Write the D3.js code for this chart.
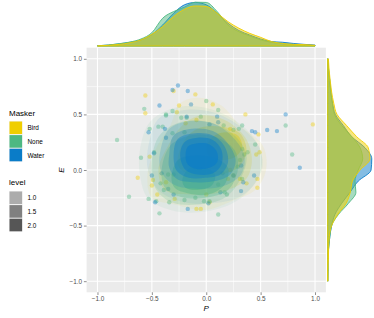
<!DOCTYPE html>
<html><head><meta charset="utf-8">
<script src="https://cdn.jsdelivr.net/npm/d3@7"></script>
<style>body{margin:0;background:#fff}svg{display:block}text{font-family:"Liberation Sans",Arial,sans-serif}</style>
</head><body><svg id="c" width="374" height="318"></svg>
<script>
const groups = ["Bird","None","Water"];
const groupColors = ["#F0CE00","#4DB882","#0A7CC8"];
const xTicks = [-1,-0.5,0,0.5,1];
const yTicks = [-1,-0.5,0,0.5,1];
const minorTicks = [-0.75,-0.25,0.25,0.75];
const levelBreaks = [1.0,1.5,2.0];

// marginal density grid and values
const margGrid = [-1,-0.9,-0.8,-0.7,-0.6,-0.5,-0.4,-0.3,-0.2,-0.1,0,0.1,0.2,0.3,0.4,0.5,0.6,0.7,0.8,0.9,1];
const birdDensP  = [0,.03,.07,.14,.26,.50,.83,1.26,1.57,1.71,1.69,1.40,1.04,.76,.54,.37,.19,.11,.07,.06,.03];
const noneDensP  = [.01,.04,.10,.17,.30,.57,1.19,1.47,1.66,1.87,1.86,1.47,.90,.61,.43,.26,.16,.10,.06,.03,.01];
const waterDensP = [.01,.04,.09,.16,.26,.49,.90,1.40,1.76,1.86,1.76,1.40,.97,.66,.47,.30,.19,.16,.11,.07,.04];
const birdDensE  = [.01,.01,.03,.04,.07,.17,.43,.79,.97,1.06,1.39,1.81,1.74,1.24,.81,.40,.26,.17,.11,.06,.03];
const noneDensE  = [0,.01,.01,.04,.09,.17,.46,.89,1.21,1.17,1.31,1.50,1.39,1.03,.60,.29,.20,.13,.09,.04,.01];
const waterDensE = [0,.01,.01,.04,.09,.17,.31,.60,.96,1.31,1.86,1.89,1.60,1.03,.67,.33,.21,.14,.09,.04,.01];

// scatter points [P, E]
const birdPoints = [[-0.30,0.71],[-0.10,0.68],[-0.56,0.67],[-0.25,0.58],[-0.56,0.51],[-0.27,0.52],[-0.09,0.45],[-0.52,0.12],[0.06,0.59],[0.36,0.50],[0.98,0.41],[0.48,0.32],[0.46,0.14],[0.49,0.16],[0.22,0.37],[-0.19,0.42],[-0.63,-0.07],[-0.50,-0.14],[-0.49,-0.09],[-0.37,-0.11],[-0.45,-0.22],[-0.29,-0.26],[-0.09,-0.35],[-0.05,-0.35],[0.37,-0.12],[0.47,-0.08],[0.47,-0.16],[0.25,-0.05],[0.20,-0.08],[0.00,-0.22],[0.03,-0.29],[0.31,-0.08],[0.22,0.00]];
const nonePoints = [[0.00,0.62],[-0.57,0.55],[-0.37,0.50],[-0.31,0.53],[-0.23,0.47],[-0.18,0.47],[-0.52,0.37],[-0.44,0.39],[-0.40,0.39],[-0.20,0.34],[-0.82,0.27],[-0.48,0.16],[-0.60,0.11],[0.11,0.54],[0.73,0.40],[0.33,0.40],[0.45,0.23],[0.33,0.19],[0.38,0.16],[0.35,0.14],[0.79,0.14],[0.25,0.36],[0.30,0.37],[0.16,0.40],[-0.05,0.48],[-0.37,0.49],[-0.31,0.33],[0.31,0.09],[0.29,0.03],[-0.71,-0.24],[-0.35,-0.04],[-0.30,-0.04],[-0.42,-0.12],[-0.39,-0.18],[-0.53,-0.26],[-0.46,-0.28],[-0.34,-0.29],[-0.43,-0.39],[-0.02,-0.28],[0.03,-0.28],[0.11,-0.40],[0.17,-0.20],[0.19,-0.22],[0.11,-0.13],[-0.10,-0.25],[0.33,-0.08],[-0.20,-0.27]];
const waterPoints = [[-0.26,0.76],[-0.31,0.72],[-0.17,0.71],[-0.43,0.58],[-0.14,0.59],[-0.38,0.37],[-0.53,0.34],[-0.37,0.29],[-0.48,0.15],[0.10,0.48],[0.11,0.43],[0.73,0.50],[0.42,0.35],[0.45,0.34],[0.56,0.36],[0.65,0.35],[0.32,0.04],[0.86,0.02],[-0.18,0.48],[0.03,0.41],[-0.50,-0.05],[-0.41,-0.03],[-0.35,-0.17],[-0.30,-0.22],[-0.47,-0.29],[-0.17,-0.35],[0.02,-0.30],[0.13,-0.20],[0.32,-0.19],[0.44,-0.05],[0.25,-0.05],[0.15,-0.03],[0.34,-0.11]];

// density contour levels and outlines [P, E]
const birdLevels = [0.4,0.8,1.2,1.6];
const birdContours = [
 [[-0.54,-0.04],[-0.47,0.18],[-0.33,0.40],[-0.24,0.60],[-0.06,0.65],[0.14,0.58],[0.31,0.40],[0.52,0.22],[0.55,0.0],[0.45,-0.18],[0.26,-0.27],[-0.01,-0.36],[-0.29,-0.31],[-0.50,-0.25]],
 [[-0.44,0.0],[-0.35,0.22],[-0.22,0.40],[-0.06,0.49],[0.17,0.45],[0.36,0.29],[0.42,0.09],[0.36,-0.09],[0.13,-0.20],[-0.15,-0.22],[-0.38,-0.18]],
 [[-0.26,0.04],[-0.20,0.27],[-0.06,0.38],[0.14,0.39],[0.31,0.33],[0.37,0.17],[0.29,0.02],[0.08,-0.05],[-0.13,-0.05]],
 [[0.00,0.20],[0.06,0.30],[0.17,0.34],[0.29,0.31],[0.33,0.21],[0.27,0.12],[0.14,0.09],[0.03,0.12]]
];
const noneLevels = [0.4,0.8,1.2,1.6,2.0];
const noneContours = [
 [[-0.61,0.18],[-0.52,0.43],[-0.29,0.56],[-0.01,0.56],[0.26,0.45],[0.45,0.27],[0.52,0.04],[0.40,-0.18],[0.22,-0.31],[-0.06,-0.38],[-0.33,-0.36],[-0.54,-0.25],[-0.61,-0.04]],
 [[-0.50,0.09],[-0.43,0.31],[-0.24,0.43],[0.03,0.43],[0.26,0.31],[0.37,0.13],[0.31,-0.09],[0.17,-0.25],[-0.06,-0.31],[-0.32,-0.29],[-0.47,-0.16]],
 [[-0.41,0.0],[-0.33,0.22],[-0.15,0.31],[0.08,0.30],[0.26,0.18],[0.29,0.0],[0.20,-0.18],[-0.01,-0.25],[-0.24,-0.24],[-0.38,-0.16]],
 [[-0.32,-0.07],[-0.26,0.09],[-0.10,0.13],[0.08,0.11],[0.20,0.02],[0.17,-0.13],[0.02,-0.22],[-0.17,-0.21],[-0.29,-0.16]],
 [[-0.22,-0.09],[-0.15,0.02],[-0.01,0.02],[0.08,-0.04],[0.05,-0.14],[-0.08,-0.18],[-0.19,-0.16]]
];
const waterLevels = [0.4,0.8,1.2,1.6,2.0,2.4];
const waterContours = [
 [[-0.52,0.27],[-0.43,0.47],[-0.20,0.54],[0.06,0.52],[0.30,0.40],[0.50,0.18],[0.48,-0.07],[0.31,-0.24],[0.03,-0.30],[-0.24,-0.28],[-0.44,-0.18],[-0.54,0.02]],
 [[-0.42,0.18],[-0.34,0.37],[-0.15,0.44],[0.06,0.42],[0.23,0.31],[0.35,0.13],[0.32,-0.04],[0.17,-0.14],[-0.06,-0.17],[-0.28,-0.14],[-0.40,-0.04],[-0.43,0.05]],
 [[-0.34,0.14],[-0.30,0.31],[-0.13,0.37],[0.06,0.35],[0.19,0.25],[0.27,0.09],[0.22,-0.04],[0.08,-0.10],[-0.10,-0.11],[-0.27,-0.08],[-0.34,0.02]],
 [[-0.30,0.14],[-0.26,0.28],[-0.10,0.33],[0.06,0.31],[0.17,0.21],[0.20,0.07],[0.13,-0.04],[-0.01,-0.07],[-0.16,-0.07],[-0.27,-0.01]],
 [[-0.24,0.13],[-0.20,0.25],[-0.08,0.29],[0.06,0.27],[0.14,0.18],[0.14,0.05],[0.06,-0.03],[-0.08,-0.04],[-0.19,0.0]],
 [[-0.19,0.12],[-0.17,0.21],[-0.08,0.24],[0.03,0.23],[0.10,0.16],[0.10,0.07],[0.03,0.02],[-0.09,0.01],[-0.17,0.05]]
];

const svg = d3.select("#c");
const x = d3.scaleLinear().domain([-1.1,1.1]).range([86.6,325.9]);
const y = d3.scaleLinear().domain([-1.1,1.1]).range([292.3,47.7]);
const color = d3.scaleOrdinal().domain(groups).range(groupColors);
const levelAlpha = d3.scaleLinear().domain([0.4,2.4]).range([0.07,0.6]);
const legendAlpha = d3.scaleLinear().domain([0.4,2.4]).range([0.1,1]);
const dTop = d3.scaleLinear().domain([0,1.9]).range([46,1.5]);
const dRight = d3.scaleLinear().domain([0,1.9]).range([327.7,372]);

// panel
svg.append("rect").attr("x",x(-1.1)).attr("y",y(1.1)).attr("width",x(1.1)-x(-1.1)).attr("height",y(-1.1)-y(1.1)).attr("fill","#EBEBEB");
const grid = svg.append("g");
minorTicks.forEach(t=>{
  grid.append("line").attr("x1",x(t)).attr("x2",x(t)).attr("y1",y(1.1)).attr("y2",y(-1.1)).attr("stroke","#fff").attr("stroke-width",0.55);
  grid.append("line").attr("y1",y(t)).attr("y2",y(t)).attr("x1",x(-1.1)).attr("x2",x(1.1)).attr("stroke","#fff").attr("stroke-width",0.55);
});
xTicks.forEach(t=>{
  grid.append("line").attr("x1",x(t)).attr("x2",x(t)).attr("y1",y(1.1)).attr("y2",y(-1.1)).attr("stroke","#fff").attr("stroke-width",1.1);
});
yTicks.forEach(t=>{
  grid.append("line").attr("y1",y(t)).attr("y2",y(t)).attr("x1",x(-1.1)).attr("x2",x(1.1)).attr("stroke","#fff").attr("stroke-width",1.1);
});

svg.append("clipPath").attr("id","pc").append("rect").attr("x",x(-1.1)).attr("y",y(1.1)).attr("width",x(1.1)-x(-1.1)).attr("height",y(-1.1)-y(1.1));
const plot = svg.append("g").attr("clip-path","url(#pc)");

// points
const pointSets = [birdPoints,nonePoints,waterPoints];
pointSets.forEach((pts,i)=>{
  plot.append("g").selectAll("circle").data(pts).join("circle")
    .attr("cx",d=>x(d[0])).attr("cy",d=>y(d[1])).attr("r",2.2)
    .attr("fill",color(groups[i])).attr("fill-opacity",0.4);
});

// contours
const contourLine = d3.line().x(d=>x(d[0])).y(d=>y(d[1])).curve(d3.curveCatmullRomClosed.alpha(0.5));
const contourSets = [[birdLevels,birdContours],[noneLevels,noneContours],[waterLevels,waterContours]];
contourSets.forEach(([lv,cs],i)=>{
  cs.forEach((poly,j)=>{
    plot.append("path").attr("d",contourLine(poly)).attr("fill",color(groups[i])).attr("fill-opacity",levelAlpha(lv[j])).attr("stroke","none");
  });
});

// axes
const xAxis = d3.axisBottom(x).tickValues(xTicks).tickFormat(d3.format(".1f")).tickSize(2.7).tickPadding(1.8);
const yAxis = d3.axisLeft(y).tickValues(yTicks).tickFormat(d3.format(".1f")).tickSize(2.7).tickPadding(1.8);
const gx = svg.append("g").attr("transform",`translate(0,${y(-1.1)})`).call(xAxis);
const gy = svg.append("g").attr("transform",`translate(${x(-1.1)},0)`).call(yAxis);
[gx,gy].forEach(g=>{
  g.select(".domain").remove();
  g.selectAll(".tick line").attr("stroke","#333").attr("stroke-width",0.55);
  g.selectAll(".tick text").attr("fill","#4D4D4D").style("font-size","6.4px");
});
svg.append("text").attr("x",x(0)).attr("y",311).attr("text-anchor","middle").style("font-size","8px").style("font-style","italic").text("P");
svg.append("text").attr("transform",`translate(64,${y(0)}) rotate(-90)`).attr("text-anchor","middle").style("font-size","8px").style("font-style","italic").text("E");

// marginals (Water, None, Bird order so Bird on top)
const topSets = [[2,waterDensP],[1,noneDensP],[0,birdDensP]];
const topArea = d3.area().x((d,i)=>x(margGrid[i])).y0(dTop(0)).y1(d=>dTop(d)).curve(d3.curveMonotoneX);
topSets.forEach(([gi,vals])=>{
  svg.append("path").attr("d",topArea(vals)).attr("fill",groupColors[gi]).attr("fill-opacity",0.5)
    .attr("stroke",groupColors[gi]).attr("stroke-width",0.9);
});
const rightSets = [[2,waterDensE],[1,noneDensE],[0,birdDensE]];
const rightArea = d3.area().y((d,i)=>y(margGrid[i])).x0(dRight(0)).x1(d=>dRight(d)).curve(d3.curveMonotoneY);
rightSets.forEach(([gi,vals])=>{
  svg.append("path").attr("d",rightArea(vals)).attr("fill",groupColors[gi]).attr("fill-opacity",0.5)
    .attr("stroke",groupColors[gi]).attr("stroke-width",0.9);
});

// legends
const lg = svg.append("g");
lg.append("text").attr("x",9).attr("y",116).style("font-size","8px").text("Masker");
groups.forEach((g,i)=>{
  lg.append("rect").attr("x",9).attr("y",121+i*13.6).attr("width",13.6).attr("height",13.6).attr("fill","#F2F2F2");
  lg.append("rect").attr("x",9.5).attr("y",121.5+i*13.6).attr("width",12.6).attr("height",12.6).attr("fill",color(g));
  lg.append("text").attr("x",27.5).attr("y",121+i*13.6+9.3).style("font-size","6.4px").text(g);
});
lg.append("text").attr("x",9).attr("y",185).style("font-size","8px").text("level");
levelBreaks.forEach((l,i)=>{
  lg.append("rect").attr("x",9).attr("y",191+i*13.6).attr("width",13.6).attr("height",13.6).attr("fill","#F2F2F2");
  lg.append("rect").attr("x",9.5).attr("y",191.5+i*13.6).attr("width",12.6).attr("height",12.6).attr("fill","#333").attr("fill-opacity",legendAlpha(l));
  lg.append("text").attr("x",27.5).attr("y",191+i*13.6+9.3).style("font-size","6.4px").text(d3.format(".1f")(l));
});
</script></body></html>
